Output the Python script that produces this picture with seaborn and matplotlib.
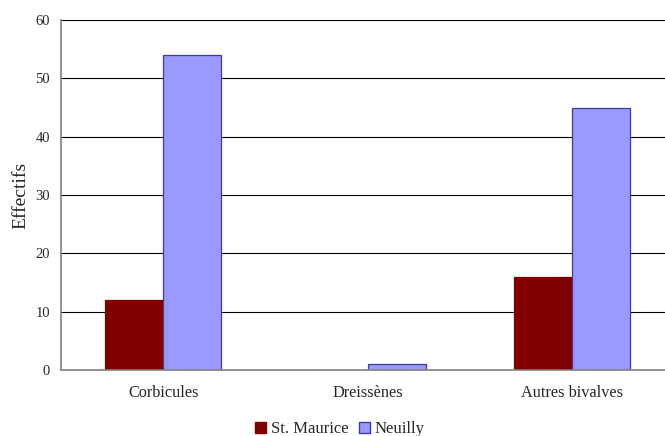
import matplotlib
matplotlib.use("Agg")
import matplotlib.pyplot as plt
import seaborn as sns
import pandas as pd
from matplotlib.patches import Patch

categories = ["Corbicules", "Dreissènes", "Autres bivalves"]
sites = ["St. Maurice", "Neuilly"]
st_maurice = [12, 0, 16]
neuilly = [54, 1, 45]
yticks = [0, 10, 20, 30, 40, 50, 60]

df = pd.DataFrame({
    "categorie": categories * 2,
    "site": [sites[0]] * 3 + [sites[1]] * 3,
    "effectif": st_maurice + neuilly,
})

sns.set_theme(style="white")
plt.rcParams["font.family"] = ["Liberation Serif", "DejaVu Serif"]

colors = {"St. Maurice": "#800000", "Neuilly": "#9999FF"}
edges = {"St. Maurice": "#800000", "Neuilly": "#3a3aa0"}

fig = plt.figure(figsize=(6.65, 4.36), dpi=100)
W, H = 665, 436
x0, x1, ytop, ybot = 61, 674.5, 20, 370
ax = fig.add_axes([x0 / W, 1 - ybot / H, (x1 - x0) / W, (ybot - ytop) / H])

sns.barplot(data=df, x="categorie", y="effectif", hue="site",
            palette=colors, width=0.567, ax=ax, legend=False,
            saturation=1)

for container, s in zip(ax.containers, sites):
    for bar in container:
        bar.set_edgecolor(edges[s])
        bar.set_linewidth(0.9)

ax.set_ylim(0, 60)
ax.set_xlim(-0.5, 2.5)
ax.set_yticks(yticks)
ax.set_yticklabels([str(v) for v in yticks], fontsize=10.5)
ax.set_xticks([-0.5, 0.5, 1.5, 2.5])
ax.set_xticklabels([])
ax.set_xticks([0, 1, 2], minor=True)
ax.set_xticklabels(categories, minor=True, fontsize=11.7)
ax.tick_params(axis="x", which="minor", length=0, pad=11)
ax.tick_params(axis="x", which="major", length=4, width=1, color="#808080", direction="out")
ax.tick_params(axis="y", length=4, width=1, color="#808080", direction="out", pad=4)

ax.set_axisbelow(True)
for v in yticks[1:]:
    ax.axhline(v, color="black", linewidth=0.8, zorder=0)

for side in ["top", "right"]:
    ax.spines[side].set_visible(False)
for side in ["left", "bottom"]:
    ax.spines[side].set_color("#808080")
    ax.spines[side].set_linewidth(1.2)
ax.spines["bottom"].set_zorder(5)

ax.set_xlabel("")
ax.set_ylabel("Effectifs", fontsize=14, labelpad=4)

handles = [Patch(facecolor=colors[s], edgecolor=edges[s], label=s) for s in sites]
fig.legend(handles=handles, loc="center", bbox_to_anchor=(340 / W, 1 - 429 / H),
           ncol=2, frameon=False, fontsize=12, handlelength=0.65, handleheight=0.65,
           handletextpad=0.3, columnspacing=0.6, borderaxespad=0)

fig.savefig("out.png", dpi=100)
